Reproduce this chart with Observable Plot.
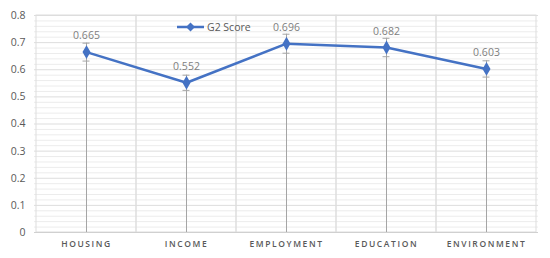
<!DOCTYPE html>
<html><head><meta charset="utf-8">
<script src="https://cdn.jsdelivr.net/npm/d3@7"></script>
<script src="https://cdn.jsdelivr.net/npm/@observablehq/plot@0.6"></script>
<style>
body{margin:0;background:#fff;}
#wrap{position:relative;width:550px;height:258px;font-family:"Open Sans",sans-serif;}
#wrap svg{display:block;}
g[aria-label="x-axis tick label"] text{letter-spacing:1.6px;font-weight:600;}
#legend{position:absolute;left:177px;top:20px;display:flex;align-items:center;font-size:10.5px;color:#595959;}
</style></head><body><div id="wrap"></div>
<script>
const categories = ["HOUSING", "INCOME", "EMPLOYMENT", "EDUCATION", "ENVIRONMENT"];
const scores = [0.665, 0.552, 0.696, 0.682, 0.603];
const errors = [0.033, 0.028, 0.035, 0.034, 0.030];
const scoreLabels = ["0.665", "0.552", "0.696", "0.682", "0.603"];
const yTicks = [0, 0.1, 0.2, 0.3, 0.4, 0.5, 0.6, 0.7, 0.8];
const yTickLabels = ["0", "0.1", "0.2", "0.3", "0.4", "0.5", "0.6", "0.7", "0.8"];
const minorTicks = [0.02,0.04,0.06,0.08,0.12,0.14,0.16,0.18,0.22,0.24,0.26,0.28,0.32,0.34,0.36,0.38,0.42,0.44,0.46,0.48,0.52,0.54,0.56,0.58,0.62,0.64,0.66,0.68,0.72,0.74,0.76,0.78];
const seriesName = "G2 Score";

const data = categories.map((c, i) => ({cat: c, v: scores[i], e: errors[i], label: scoreLabels[i]}));
const blue = "#4472C4";
const errColor = "#a5a5a5";

const chart = Plot.plot({
  width: 550, height: 258,
  marginLeft: 34, marginRight: 12, marginTop: 15, marginBottom: 26,
  style: {fontFamily: "'Open Sans', sans-serif", color: "#595959", background: "#fff"},
  x: {type: "band", domain: categories, padding: 0, label: null},
  y: {domain: [0, 0.8], label: null},
  marks: [
    Plot.ruleY(minorTicks, {stroke: "#ececec", strokeWidth: 1}),
    Plot.ruleY(yTicks, {stroke: "#dddddd", strokeWidth: 1}),
    Plot.cell(categories, {x: d => d, fill: "none", stroke: "#dddddd", strokeWidth: 1}),
    Plot.ruleY([0], {stroke: "#d0d0d0"}),
    Plot.axisY(yTicks, {tickSize: 0, tickPadding: 9, fontSize: 10.5, label: null, tickFormat: (d, i) => yTickLabels[i]}),
    Plot.axisX({tickSize: 0, tickPadding: 8, fontSize: 8.5, label: null}),
    Plot.ruleX(data, {x: "cat", y1: 0, y2: d => d.v + d.e, stroke: errColor, strokeWidth: 1}),
    Plot.tickY(data, {x: "cat", y: d => d.v + d.e, stroke: errColor, insetLeft: 46.5, insetRight: 46.5}),
    Plot.tickY(data, {x: "cat", y: d => d.v - d.e, stroke: errColor, insetLeft: 46.5, insetRight: 46.5}),
    Plot.line(data, {x: "cat", y: "v", stroke: blue, strokeWidth: 2.5}),
    Plot.dot(data, {x: "cat", y: "v", symbol: "diamond", fill: blue, r: 4.2}),
    Plot.text(data, {x: "cat", y: "v", text: "label", dy: -16, fill: "#808080", fontSize: 10.5})
  ]
});
const wrap = document.getElementById("wrap");
wrap.appendChild(chart);
const leg = document.createElement("div");
leg.id = "legend";
leg.innerHTML = `<svg width="27" height="12" style="margin-right:3px"><line x1="0" x2="27" y1="6" y2="6" stroke="${blue}" stroke-width="2.5"/><path d="M13.5,1.5 L18,6 L13.5,10.5 L9,6 Z" fill="${blue}"/></svg><span>${seriesName}</span>`;
wrap.appendChild(leg);
</script></body></html>
